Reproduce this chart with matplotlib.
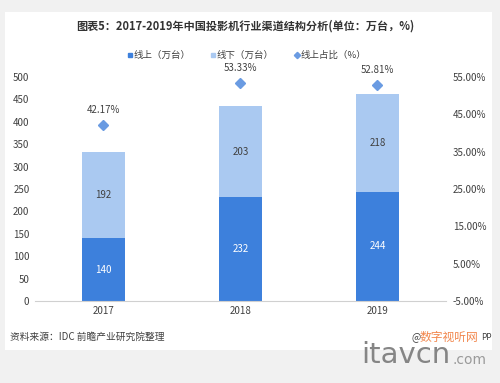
import numpy as np
import matplotlib.pyplot as plt
from matplotlib.lines import Line2D
from matplotlib.patches import Rectangle

plt.rcParams['font.family'] = ['Noto Sans CJK SC', 'DejaVu Sans']

# 数据
years = ['2017', '2018', '2019']
online = [140, 232, 244]
offline = [192, 203, 218]
online_share = [42.17, 53.33, 52.81]

c_on = '#3d80dc'
c_off = '#aac9f1'
c_dia = '#6a9be2'
txt = '#404040'

fig = plt.figure(figsize=(5, 3.83), dpi=100)
fig.patch.set_facecolor('#f1f1f1')
# white card
card = Rectangle((0.01, 0.086), 0.974, 0.883, transform=fig.transFigure,
                 facecolor='white', edgecolor='none', zorder=-5)
fig.patches.append(card)

ax = fig.add_axes([0.07, 0.214, 0.822, 0.585])
ax.set_facecolor('none')
x = np.arange(len(years))
w = 0.31
b1 = ax.bar(x, online, w, color=c_on, zorder=2)
b2 = ax.bar(x, offline, w, bottom=online, color=c_off, zorder=2)
for i in range(len(years)):
    ax.text(x[i], online[i] / 2, str(online[i]), ha='center', va='center',
            color='white', fontsize=7)
    ax.text(x[i], online[i] + offline[i] / 2, str(offline[i]), ha='center', va='center',
            color=txt, fontsize=7)

ax.set_xlim(-0.5, 2.5)
ax.set_ylim(0, 500)
ax.set_yticks(range(0, 501, 50))
ax.set_xticks(x)
ax.set_xticklabels(years)
ax.tick_params(length=0, labelsize=7, colors=txt)
ax.tick_params(axis='y', pad=4)
for s in ['top', 'right', 'left']:
    ax.spines[s].set_visible(False)
ax.spines['bottom'].set_color('#d0d0d0')

ax2 = ax.twinx()
ax2.set_ylim(-5, 55)
ax2.set_yticks(range(-5, 56, 10))
ax2.set_yticklabels(['%.2f%%' % v for v in range(-5, 56, 10)])
ax2.plot(x, online_share, linestyle='none', marker='D', markersize=5, color=c_dia, zorder=3)
for i in range(len(years)):
    ax2.annotate('%.2f%%' % online_share[i], (x[i], online_share[i]), xytext=(0, 7),
                 textcoords='offset points', ha='center', va='bottom', fontsize=7, color=txt)
ax2.tick_params(length=0, labelsize=7, colors=txt, pad=5)
for s in ['top', 'right', 'left', 'bottom']:
    ax2.spines[s].set_visible(False)

fig.text(0.49, 0.932, '图表5：2017-2019年中国投影机行业渠道结构分析(单位：万台，%)',
         ha='center', va='center', fontsize=8, fontweight='bold', color='#333333')

handles = [
    Line2D([], [], linestyle='none', marker='s', markersize=3.5, color=c_on),
    Line2D([], [], linestyle='none', marker='s', markersize=3.5, color=c_off),
    Line2D([], [], linestyle='none', marker='D', markersize=3.2, color=c_dia),
]
fig.legend(handles, ['线上（万台）', '线下（万台）', '线上占比（%）'], loc='center',
           bbox_to_anchor=(0.49, 0.855), ncol=3, frameon=False, fontsize=6.8,
           handletextpad=-0.2, handlelength=1.2, columnspacing=1.8, labelcolor=txt)

fig.text(0.02, 0.12, '资料来源：IDC 前瞻产业研究院整理', ha='left', va='center',
         fontsize=7, color=txt)
# 水印盖住了 "@前瞻经济学人APP"
fig.text(0.822, 0.12, '@', ha='left', va='center', fontsize=7, color=txt)
fig.text(0.84, 0.12, '数字视听网', ha='left', va='center', fontsize=8.5,
         color='#f07a3a', alpha=0.9)
fig.text(0.983, 0.12, 'PP', ha='right', va='center', fontsize=6, color=txt)
fig.text(0.722, 0.073, 'itavcn', ha='left', va='center', fontsize=21, color='#858585',
         family='DejaVu Sans', fontweight='medium')
fig.text(0.905, 0.06, '.com', ha='left', va='center', fontsize=10, color='#9a9a9a',
         family='DejaVu Sans')

fig.savefig('out.png', dpi=100, facecolor=fig.get_facecolor())
